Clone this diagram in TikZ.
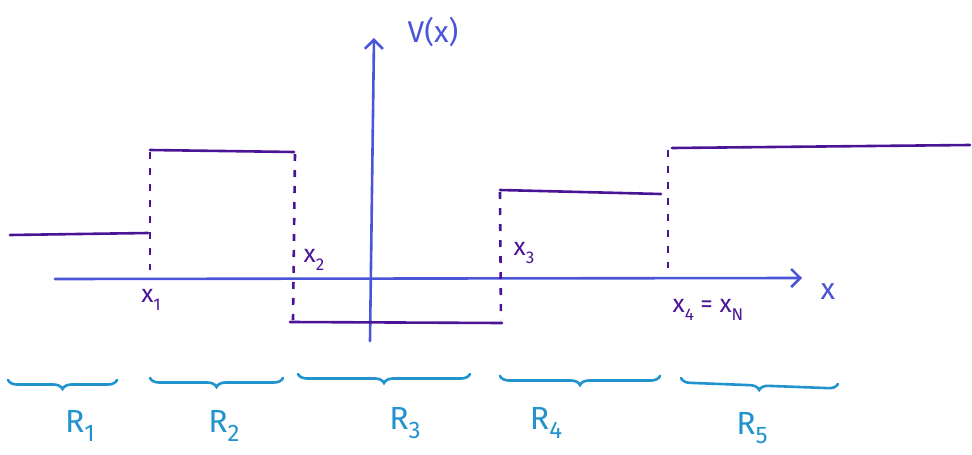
\documentclass[tikz,border=0pt]{standalone}
\usepackage{fontspec}
\setmainfont{Fira Sans}
\usetikzlibrary{arrows.meta,decorations.pathreplacing}
\definecolor{axisblue}{HTML}{4A55D8}
\definecolor{potpurple}{HTML}{4B1496}
\definecolor{regblue}{HTML}{2293CC}
\newcommand{\mysub}[3]{#1\raisebox{-0.3em}{\fontsize{#3}{#3}\selectfont #2}}
\tikzset{
  axisline/.style={axisblue, line width=2.6pt, line cap=round, -{Straight Barb[length=9pt,width=18pt,line width=2.6pt]}},
  potline/.style={potpurple, line width=2.6pt, line cap=round},
  potdash/.style={potpurple, line width=2.6pt, dash pattern=on 7pt off 9pt},
  regbrace/.style={regblue, line width=2.6pt, line cap=round, decorate, decoration={brace, mirror, amplitude=9pt}},
  axlabel/.style={axisblue, font=\fontsize{30}{32}\selectfont, inner sep=0pt},
  ptlabel/.style={potpurple, font=\fontsize{25}{27}\selectfont, inner sep=0pt},
  reglabel/.style={regblue, font=\fontsize{32}{34}\selectfont, inner sep=0pt}
}
\begin{document}
\begin{tikzpicture}[x=1pt,y=-1pt]
\useasboundingbox (0,0) rectangle (972,455);
% axes
\coordinate (xs) at (55,279);
\coordinate (xe) at (802,278);
\coordinate (ys) at (370,341);
\coordinate (ye) at (374,38);
\draw[axisline] (xs) -- (xe);
\draw[axisline] (ys) -- (ye);
\node[axlabel] (xl) at (828,292) {x};
\node[axlabel] (vl) at (433,32) {V(x)};
% potential levels
\coordinate (a1) at (10,235); \coordinate (a2) at (148,233);
\coordinate (b1) at (150,150); \coordinate (b2) at (294,152);
\coordinate (c1) at (290,322); \coordinate (c2) at (502,323);
\coordinate (d1) at (500,190); \coordinate (d2) at (661,194);
\coordinate (e1) at (672,148); \coordinate (e2) at (970,145);
\draw[potline] (a1) -- (a2);
\draw[potline] (b1) -- (b2);
\draw[potline] (c1) -- (c2);
\draw[potline] (d1) -- (d2);
\draw[potline] (e1) -- (e2);
% discontinuities
\coordinate (v1t) at (150,152); \coordinate (v1b) at (150,270);
\coordinate (v2t) at (295,154); \coordinate (v2b) at (293,320);
\coordinate (v3t) at (500,192); \coordinate (v3b) at (501,320);
\coordinate (v4t) at (668,150); \coordinate (v4b) at (668,268);
\draw[potdash] (v1t) -- (v1b);
\draw[potdash] (v2t) -- (v2b);
\draw[potdash] (v3t) -- (v3b);
\draw[potdash] (v4t) -- (v4b);
% point labels
\node[ptlabel] (x1) at (151,300) {\mysub{x}{1}{17}};
\node[ptlabel] (x2) at (314,260) {\mysub{x}{2}{17}};
\node[ptlabel] (x3) at (524,253) {\mysub{x}{3}{17}};
\node[ptlabel] (x4) at (708,310) {\mysub{x}{4}{17} = \mysub{x}{N}{17}};
% regions
\coordinate (r1a) at (8,380);   \coordinate (r1b) at (117,380);
\coordinate (r2a) at (150,378); \coordinate (r2b) at (283,378);
\coordinate (r3a) at (298,374); \coordinate (r3b) at (470,374);
\coordinate (r4a) at (500,376); \coordinate (r4b) at (660,376);
\coordinate (r5a) at (681,378); \coordinate (r5b) at (838,384);
\draw[regbrace] (r1a) -- (r1b);
\draw[regbrace] (r2a) -- (r2b);
\draw[regbrace] (r3a) -- (r3b);
\draw[regbrace] (r4a) -- (r4b);
\draw[regbrace] (r5a) -- (r5b);
\node[reglabel] (R1) at (80,426) {\mysub{R}{1}{24}};
\node[reglabel] (R2) at (224,426) {\mysub{R}{2}{24}};
\node[reglabel] (R3) at (405,423) {\mysub{R}{3}{24}};
\node[reglabel] (R4) at (546,423) {\mysub{R}{4}{24}};
\node[reglabel] (R5) at (752,428) {\mysub{R}{5}{24}};
\end{tikzpicture}
\end{document}
